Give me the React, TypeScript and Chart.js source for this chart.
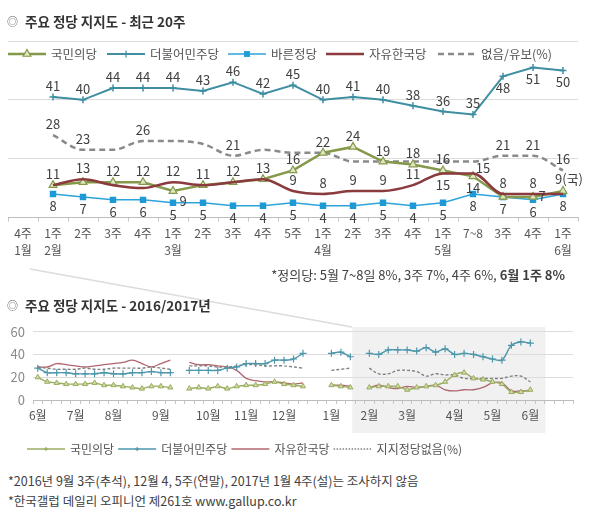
import React, { useEffect, useRef } from 'react';
import { Chart, registerables } from 'chart.js';
Chart.register(...registerables);

const FONT = "'Noto Sans CJK KR', 'Noto Sans', sans-serif";

// ---------- Top chart: recent 20 weeks ----------
const recentWeeks: (string | string[])[] = [
  ['4주', '1월'], ['1주', '2월'], '2주', '3주', '4주', ['1주', '3월'], '2주', '3주', '4주', '5주',
  ['1주', '4월'], '2주', '3주', '4주', ['1주', '5월'], '7~8', '3주', '4주', ['1주', '6월'],
];
const peopleParty = [null, 11, 12, 12, 12, 9, 11, 12, 13, 16, 22, 24, 19, 18, 16, 14, 7, 7, 9];
const minjoo = [null, 41, 40, 44, 44, 44, 43, 46, 42, 45, 40, 41, 40, 38, 36, 35, 48, 51, 50];
const bareun = [null, 8, 7, 6, 6, 5, 5, 4, 4, 5, 4, 4, 5, 4, 5, 8, 7, 6, 8];
const liberty = [null, 11, 13, 11, 10, 12, 11, 12, 13, 9, 8, 9, 9, 11, 15, 15, 8, 8, 8];
const undecided = [null, 28, 23, 23, 26, 26, 25, 21, 23, 22, 22, 19, 19, 19, 19, 19, 21, 21, 16];

// value labels shown on the picture (null = none)
const peopleLbl = [null, '11', null, '12', '12', '9', '11', '12', '13', '16', '22', '24', '19', '18', '16', '14', null, '7', '9(국)'];
const peoplePos = ['', 'a', '', 'a', 'a', 'br', 'a', 'a', 'a', 'a', 'a', 'a', 'a', 'a', 'a', 'b', '', 'r', 'u'];
const libertyLbl = [null, null, '13', null, null, '12', null, null, null, '9', '8', '9', '9', '11', '15', '15', '8', '8', null];
const libertyPos = ['', '', 'a', '', '', 'a', '', '', '', 'a', 'a', 'a', 'a', 'a', 'b', 'ar', 'a', 'a', ''];
const undecidedLbl = [null, '28', '23', null, '26', null, null, '21', null, null, null, null, null, null, null, null, '21', '21', '16'];
const minjooLbl = minjoo.map((v) => (v == null ? null : String(v)));
const minjooPos = minjoo.map((_, i) => (i >= 16 ? 'b' : 'a'));
const bareunLbl = bareun.map((v) => (v == null ? null : String(v)));

// ---------- Bottom chart: 2016/2017 weekly ----------
// weekly slots from 2016 June wk1 to 2017 Jan wk3 (null = not surveyed)
const histPeople = [20, 16, 15, 14, 14, 14, 15, 13, 13, 12, 11, 10, 12, 12, 11, null, 10, 11, 10, 12, 10, 12, 13, 13, 14, 16, 14, 13, 12, null, null, 13, 12, 11];
const histMinjoo = [28, 24, 24, 24, 23, 23, 23, 24, 23, 23, 24, 24, 25, 24, 24, null, 26, 26, 26, 26, 28, 29, 32, 32, 32, 35, 35, 36, 41, null, null, 41, 42, 38];
const histLiberty = [29, 29, 32, 31, 30, 29, 30, 31, 32, 33, 35, 32, 29, 32, 35, null, 33, 31, 31, 30, 29, 26, 19, 17, 16, 16, 15, 14, 15, null, null, 13, 13, 12];
const histNone = [29, 28, 27, 27, 27, 28, 27, 27, 28, 28, 28, 28, 29, 28, 27, null, 30, 30, 30, 29, 29, 30, 31, 31, 30, 30, 30, 29, 28, null, null, 26, 27, 28];
const trailing = [null, null, null, null];
const monthNames = ['6월', '7월', '8월', '9월', '10월', '11월', '12월', '1월', '2월', '3월', '4월', '5월', '6월'];
const monthSlots = [0, 4, 8, 13, 18, 22, 26, 31, 35, 39, 44, 48, 52];
const yearPeople = [...histPeople, ...peopleParty, ...trailing];
const yearMinjoo = [...histMinjoo, ...minjoo, ...trailing];
const yearLiberty = [...histLiberty, ...liberty, ...trailing];
const yearNone = [...histNone, ...undecided, ...trailing];
const slotLabels = yearMinjoo.map((_, i) => {
  const k = monthSlots.indexOf(i);
  return k >= 0 ? monthNames[k] : '';
});

const C = {
  green: '#84994a', greenFill: '#dfe6c2', teal: '#3f8ea1', blue: '#2ea3da', blueFill: '#1d9ad6',
  red: '#8b3a3d', gray: '#8a8a8a',
  green2: '#9aad60', teal2: '#4d97ab', red2: '#b0666f', gray2: '#808080',
};

function drawMarker(ctx: CanvasRenderingContext2D, type: string, x: number, y: number, r: number, stroke: string, fill: string, lw: number) {
  ctx.save();
  ctx.setLineDash([]);
  ctx.lineWidth = lw;
  ctx.strokeStyle = stroke;
  ctx.fillStyle = fill;
  ctx.beginPath();
  if (type === 'triangle') {
    ctx.moveTo(x, y - r);
    ctx.lineTo(x + 0.866 * r, y + 0.5 * r);
    ctx.lineTo(x - 0.866 * r, y + 0.5 * r);
    ctx.closePath();
    ctx.fill();
    ctx.stroke();
  } else if (type === 'cross') {
    ctx.moveTo(x - r, y); ctx.lineTo(x + r, y);
    ctx.moveTo(x, y - r); ctx.lineTo(x, y + r);
    ctx.stroke();
  } else if (type === 'rect') {
    const s = r * Math.SQRT1_2;
    ctx.rect(x - s, y - s, 2 * s, 2 * s);
    ctx.fill();
    ctx.stroke();
  }
  ctx.restore();
}

type Leg = { text: string; color: string; width: number; dash?: number[]; marker?: string; fill?: string; r?: number };

function drawLegendRow(ctx: CanvasRenderingContext2D, items: Leg[], xs: number[] | null, x0: number, y: number, lineLen: number, font: string, textColor: string, gap: number) {
  ctx.save();
  ctx.font = font;
  ctx.textBaseline = 'middle';
  let x = x0;
  items.forEach((it, i) => {
    const lx = xs ? xs[i] : x;
    ctx.strokeStyle = it.color;
    ctx.lineWidth = it.width;
    ctx.setLineDash(it.dash || []);
    ctx.beginPath();
    ctx.moveTo(lx, y);
    ctx.lineTo(lx + lineLen, y);
    ctx.stroke();
    if (it.marker) drawMarker(ctx, it.marker, lx + lineLen / 2, y, it.r || 3.5, it.color, it.fill || it.color, 1.2);
    ctx.fillStyle = textColor;
    ctx.textAlign = 'left';
    ctx.fillText(it.text, lx + lineLen + 5, y);
    x = lx + lineLen + 5 + ctx.measureText(it.text).width + gap;
  });
  ctx.restore();
}

const OFFS: Record<string, [number, number]> = {
  a: [0, -11], b: [0, 12], br: [10, 10], ar: [10, -5], r: [9, -1], u: [6, -12],
};

function TopChart() {
  const ref = useRef<HTMLCanvasElement>(null);
  useEffect(() => {
    const labelSets = [
      { ds: 0, lbl: undecidedLbl, pos: undecidedLbl.map(() => 'a') },
      { ds: 1, lbl: minjooLbl, pos: minjooPos },
      { ds: 2, lbl: bareunLbl, pos: bareunLbl.map(() => 'b') },
      { ds: 3, lbl: libertyLbl, pos: libertyPos },
      { ds: 4, lbl: peopleLbl, pos: peoplePos },
    ];
    const labelPlugin = {
      id: 'valueLabels',
      afterDatasetsDraw(chart: any) {
        const ctx = chart.ctx as CanvasRenderingContext2D;
        ctx.save();
        ctx.font = `13px ${FONT}`;
        ctx.fillStyle = '#404040';
        ctx.textAlign = 'center';
        ctx.textBaseline = 'middle';
        labelSets.forEach((s) => {
          const meta = chart.getDatasetMeta(s.ds);
          s.lbl.forEach((t, i) => {
            if (!t) return;
            const p = meta.data[i];
            const o = OFFS[s.pos[i]] || OFFS.a;
            ctx.fillText(t, p.x + o[0], p.y + o[1]);
          });
        });
        ctx.restore();
      },
    };
    const legendPlugin = {
      id: 'topLegend',
      afterDraw(chart: any) {
        const items: Leg[] = [
          { text: '국민의당', color: C.green, width: 2.5, marker: 'triangle', fill: C.greenFill, r: 4.5 },
          { text: '더불어민주당', color: C.teal, width: 2, marker: 'cross', r: 3.5 },
          { text: '바른정당', color: C.blue, width: 1.5, marker: 'rect', fill: C.blueFill, r: 3.5 },
          { text: '자유한국당', color: C.red, width: 2.5 },
          { text: '없음/유보(%)', color: C.gray, width: 2.5, dash: [6, 4] },
        ];
        drawLegendRow(chart.ctx, items, [8, 107, 228, 326, 438], 8, 54, 38, `12.5px ${FONT}`, '#555', 0);
      },
    };
    const chart = new Chart(ref.current!, {
      type: 'line',
      data: {
        labels: recentWeeks as any,
        datasets: [
          { label: '없음/유보(%)', data: undecided, borderColor: C.gray, borderWidth: 2.5, borderDash: [6, 4], pointRadius: 0, cubicInterpolationMode: 'monotone', order: 5 },
          { label: '더불어민주당', data: minjoo, borderColor: C.teal, borderWidth: 2, pointStyle: 'cross', pointRadius: 3.5, pointBorderWidth: 1.5, pointBorderColor: C.teal, order: 4 },
          { label: '바른정당', data: bareun, borderColor: C.blue, borderWidth: 1.5, pointStyle: 'rect', pointRadius: 3.5, pointBackgroundColor: C.blueFill, pointBorderColor: C.blueFill, order: 3 },
          { label: '자유한국당', data: liberty, borderColor: C.red, borderWidth: 2.5, pointRadius: 0, cubicInterpolationMode: 'monotone', order: 1 },
          { label: '국민의당', data: peopleParty, borderColor: C.green, borderWidth: 2.5, pointStyle: 'triangle', pointRadius: 4.5, pointBorderWidth: 1.2, pointBackgroundColor: C.greenFill, pointBorderColor: C.green, order: 2 },
        ] as any,
      },
      options: {
        responsive: false,
        animation: false,
        devicePixelRatio: 1,
        layout: { padding: { left: 8, right: 22, top: 41, bottom: 0 } },
        plugins: { legend: { display: false }, tooltip: { enabled: false } },
        scales: {
          x: {
            type: 'category',
            offset: true,
            grid: { offset: true, drawOnChartArea: false, drawTicks: true, tickLength: 4, color: '#c4c4c4' },
            border: { color: '#bdbdbd' },
            ticks: { color: '#555', font: { size: 12, family: FONT, lineHeight: 1.45 }, padding: 3, autoSkip: false, maxRotation: 0 },
            afterFit: (s: any) => { s.height = 72.5; },
          },
          y: {
            min: 0, max: 60,
            ticks: { display: false, stepSize: 20 },
            grid: { color: '#dcdcdc', drawTicks: false },
            border: { display: false },
            afterFit: (s: any) => { s.width = 0; },
          },
        },
      } as any,
      plugins: [labelPlugin, legendPlugin],
    });
    return () => chart.destroy();
  }, []);
  return <canvas ref={ref} width={600} height={290} style={{ position: 'absolute', left: 0, top: 0 }} />;
}

function YearChart() {
  const ref = useRef<HTMLCanvasElement>(null);
  useEffect(() => {
    const shadePlugin = {
      id: 'shade',
      beforeDraw(chart: any) {
        const x = chart.scales.x;
        const ctx = chart.ctx as CanvasRenderingContext2D;
        const x1 = x.getPixelForValue(33.2);
        const x2 = x.getPixelForValue(53.6);
        ctx.save();
        ctx.fillStyle = '#f1f1f1';
        ctx.fillRect(x1, 37, x2 - x1, 106);
        ctx.restore();
      },
    };
    const legendPlugin = {
      id: 'yearLegend',
      afterDraw(chart: any) {
        const items: Leg[] = [
          { text: '국민의당', color: C.green2, width: 1.3, marker: 'cross', r: 2 },
          { text: '더불어민주당', color: C.teal2, width: 1.3, marker: 'cross', r: 2 },
          { text: '자유한국당', color: C.red2, width: 1.3 },
          { text: '지지정당없음(%)', color: C.gray2, width: 1.3, dash: [1.5, 1.5] },
        ];
        drawLegendRow(chart.ctx, items, null, 27, 159, 38, `12px ${FONT}`, '#555', 4);
      },
    };
    const chart = new Chart(ref.current!, {
      type: 'line',
      data: {
        labels: slotLabels,
        datasets: [
          { label: '지지정당없음', data: yearNone, borderColor: C.gray2, borderWidth: 1.4, borderDash: [3, 2], pointRadius: 0, tension: 0.35, order: 4 },
          { label: '자유한국당', data: yearLiberty, borderColor: C.red2, borderWidth: 1.3, pointRadius: 0, tension: 0.35, order: 3 },
          { label: '국민의당', data: yearPeople, borderColor: C.green2, borderWidth: 1.4, pointStyle: 'triangle', pointRadius: 3, pointBorderWidth: 1, pointBackgroundColor: '#cfd9a4', pointBorderColor: C.green2, tension: 0.3, order: 2 },
          { label: '더불어민주당', data: yearMinjoo, borderColor: C.teal2, borderWidth: 1.4, pointStyle: 'cross', pointRadius: 3.5, pointBorderWidth: 1.2, pointBorderColor: C.teal2, tension: 0.3, order: 1 },
        ] as any,
      },
      options: {
        responsive: false,
        animation: false,
        devicePixelRatio: 1,
        layout: { padding: { left: 0, right: 27, top: 41.7, bottom: 0 } },
        plugins: { legend: { display: false }, tooltip: { enabled: false } },
        scales: {
          x: {
            type: 'category',
            offset: true,
            grid: { offset: true, drawOnChartArea: false, drawTicks: true, tickLength: 4, color: '#c4c4c4' },
            border: { color: '#bdbdbd' },
            ticks: { color: '#555', font: { size: 12, family: FONT }, padding: 4, autoSkip: false, maxRotation: 0 },
            afterFit: (s: any) => { s.height = 65; },
          },
          y: {
            min: 0, max: 60,
            ticks: { stepSize: 20, color: '#8a8a8a', font: { size: 13, family: FONT }, padding: 8 },
            grid: { color: '#dcdcdc', drawTicks: false },
            border: { display: false },
            afterFit: (s: any) => { s.width = 33; },
          },
        },
      } as any,
      plugins: [shadePlugin, legendPlugin],
    });
    return () => chart.destroy();
  }, []);
  return <canvas ref={ref} width={600} height={175} style={{ position: 'absolute', left: 0, top: 290 }} />;
}

const txt: React.CSSProperties = { position: 'absolute', fontFamily: FONT, whiteSpace: 'nowrap', color: '#404040' };

export default function App() {
  return (
    <div style={{ position: 'absolute', left: 0, top: 0, width: 600, height: 522, background: '#fff', overflow: 'hidden' }}>
      <svg width={600} height={522} style={{ position: 'absolute', left: 0, top: 0 }}>
        <line x1={30} y1={269} x2={352} y2={327} stroke="#dcdcdc" strokeWidth={1.5} />
      </svg>
      <TopChart />
      <YearChart />
      <div style={{ ...txt, left: 7, top: 12, fontSize: 11, lineHeight: '18px', color: '#555' }}>◎</div>
      <div style={{ ...txt, left: 25, top: 11, fontSize: 13.5, fontWeight: 'bold', lineHeight: '20px', color: '#333' }}>주요 정당 지지도 - 최근 20주</div>
      <div style={{ ...txt, right: 35, top: 266, fontSize: 13, lineHeight: '18px' }}>
        *정의당: 5월 7~8일 8%, 3주 7%, 4주 6%, <b>6월 1주 8%</b>
      </div>
      <div style={{ ...txt, left: 7, top: 296, fontSize: 11, lineHeight: '18px', color: '#555' }}>◎</div>
      <div style={{ ...txt, left: 25, top: 295, fontSize: 13.5, fontWeight: 'bold', lineHeight: '20px', color: '#333' }}>주요 정당 지지도 - 2016/2017년</div>
      <div style={{ ...txt, left: 8, top: 472, fontSize: 12.5, lineHeight: '18px' }}>*2016년 9월 3주(추석), 12월 4, 5주(연말), 2017년 1월 4주(설)는 조사하지 않음</div>
      <div style={{ ...txt, left: 8, top: 492, fontSize: 12.5, lineHeight: '18px' }}>*한국갤럽 데일리 오피니언 제261호 www.gallup.co.kr</div>
    </div>
  );
}
